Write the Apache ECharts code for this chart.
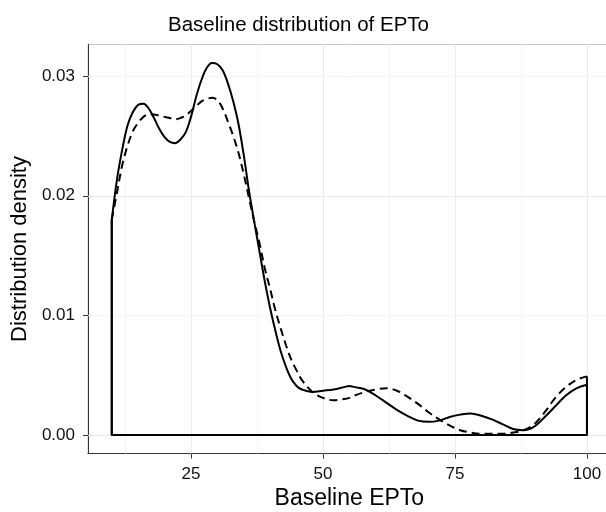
<!DOCTYPE html>
<html>
<head>
<meta charset="utf-8">
<script src="https://cdn.jsdelivr.net/npm/echarts@6/dist/echarts.min.js"></script>
<style>
  html, body { margin: 0; padding: 0; background: #fff; overflow: hidden; }
  #chart { width: 606px; height: 512px; }
</style>
</head>
<body>
<div id="chart"></div>
<script>
// ---- data ----
const xValues = [10, 11, 12, 13, 14, 15, 16, 17, 18, 19, 20, 21, 22, 23, 24, 25, 26, 27, 28, 29, 30,
  31, 32, 33, 34, 35, 36, 37, 38, 39, 40, 41, 42, 43, 44, 45, 46, 48, 50, 52, 54, 55, 56, 58, 60,
  62, 64, 66, 68, 70, 72, 74, 76, 78, 80, 82, 84, 86, 88, 90, 92, 94, 96, 98, 100];

const solidDensity = [0.0180, 0.0214, 0.0239, 0.0259, 0.0270, 0.0276, 0.0277, 0.0273, 0.0265, 0.0256, 0.0249,
  0.0245, 0.0244, 0.0247, 0.0253, 0.0266, 0.0283, 0.0297, 0.0307, 0.0311, 0.0310,
  0.0305, 0.0294, 0.0279, 0.0260, 0.0234, 0.0204, 0.0178, 0.0153, 0.0128, 0.0106, 0.0087, 0.0070, 0.0057, 0.0047, 0.0041, 0.0038,
  0.0036, 0.0037, 0.0038, 0.0040, 0.0041, 0.0040, 0.0038, 0.0033,
  0.0027, 0.0021, 0.0016, 0.0012, 0.0011, 0.0012, 0.0015, 0.0017, 0.0018, 0.0016, 0.0013, 0.0009, 0.0005, 0.0004,
  0.0007, 0.0015, 0.0024, 0.0033, 0.0039, 0.0042];

const dashedDensity = [0.0180, 0.0203, 0.0226, 0.0242, 0.0254, 0.0261, 0.0266, 0.0268, 0.0268, 0.0267, 0.0266,
  0.0265, 0.0264, 0.0265, 0.0267, 0.0271, 0.0275, 0.0279, 0.0281, 0.0282, 0.0280,
  0.0273, 0.0262, 0.0250, 0.0236, 0.0218, 0.0198, 0.0178, 0.0160, 0.0139, 0.0122, 0.0104, 0.0089, 0.0075, 0.0063, 0.0054, 0.0046,
  0.0036, 0.0031, 0.0029, 0.0030, 0.0031, 0.0033, 0.0036, 0.0038,
  0.0039, 0.0037, 0.0032, 0.0026, 0.0019, 0.0013, 0.0008, 0.0004, 0.0002, 0.0001, 0.0001, 0.0001, 0.0002, 0.0004,
  0.0009, 0.0019, 0.0031, 0.0040, 0.0046, 0.0049];

const xTicks = [25, 50, 75, 100];
const yTicks = [0, 0.01, 0.02, 0.03];
const xMinorGrid = [12.5, 37.5, 62.5, 87.5];
const yMinorGrid = [0.005, 0.015, 0.025];

const titleText = 'Baseline distribution of EPTo';
const xTitle = 'Baseline EPTo';
const yTitle = 'Distribution density';

// ---- build series data ----
const pairs = ys => xValues.map((x, i) => [x, ys[i]]);
const edges = ys => {
  const n = xValues.length;
  return [[xValues[0], ys[0]], [xValues[0], 0], [xValues[n - 1], 0], [xValues[n - 1], ys[n - 1]]];
};

const FONT = 'Liberation Sans, Arial, Helvetica, sans-serif';

const gridMarks = [];
const major = { color: '#ebebeb', width: 1, type: 'solid' };
const minor = { color: '#f5f5f5', width: 1, type: 'solid' };
xTicks.forEach(v => gridMarks.push({ xAxis: v, lineStyle: major }));
xMinorGrid.forEach(v => gridMarks.push({ xAxis: v, lineStyle: minor }));
yTicks.forEach(v => gridMarks.push({ yAxis: v, lineStyle: major }));
yMinorGrid.forEach(v => gridMarks.push({ yAxis: v, lineStyle: minor }));

const chart = echarts.init(document.getElementById('chart'), null, { renderer: 'canvas' });
chart.setOption({
  animation: false,
  backgroundColor: '#ffffff',
  title: {
    text: titleText,
    left: 163,
    top: 10,
    textStyle: { fontFamily: FONT, fontSize: 20.5, fontWeight: 'normal', color: '#000' }
  },
  grid: {
    left: 88, top: 44.5, width: 522.72, height: 409,
    containLabel: false, outerBoundsMode: 'none',
    show: true, borderColor: '#c8c8c8', borderWidth: 1, backgroundColor: '#fff'
  },
  xAxis: {
    type: 'value', min: 5.5, max: 104.5,
    name: xTitle, nameLocation: 'middle', nameGap: 33,
    nameTextStyle: { fontFamily: FONT, fontSize: 23, color: '#000' },
    axisLine: { show: true, onZero: false, lineStyle: { color: '#333', width: 1 } },
    axisTick: { show: true, length: 5, customValues: xTicks, lineStyle: { color: '#333' } },
    axisLabel: { customValues: xTicks, fontFamily: FONT, fontSize: 17, color: '#111', margin: 12 },
    splitLine: { show: false }
  },
  yAxis: {
    type: 'value', min: -0.00155, max: 0.03265,
    name: yTitle, nameLocation: 'middle', nameGap: 56, nameRotate: 90,
    nameTextStyle: { fontFamily: FONT, fontSize: 22, color: '#000' },
    axisLine: { show: true, onZero: false, lineStyle: { color: '#333', width: 1 } },
    axisTick: { show: true, length: 5, customValues: yTicks, lineStyle: { color: '#333' } },
    axisLabel: { customValues: yTicks, fontFamily: FONT, fontSize: 17, color: '#111', margin: 13,
      formatter: v => v.toFixed(2) },
    splitLine: { show: false }
  },
  series: [
    {
      type: 'line', data: [], z: 1, silent: true,
      markLine: { silent: true, z: 1, symbol: ['none', 'none'], label: { show: false }, animation: false,
        data: gridMarks }
    },
    {
      name: 'dashed-edges', type: 'line', data: edges(dashedDensity), showSymbol: false, z: 10,
      lineStyle: { color: '#000', width: 2, type: 'solid' }
    },
    {
      name: 'solid-edges', type: 'line', data: edges(solidDensity), showSymbol: false, z: 11,
      lineStyle: { color: '#000', width: 2, type: 'solid' }
    },
    {
      name: 'solid', type: 'line', data: pairs(solidDensity), smooth: 0.35, showSymbol: false, z: 11,
      lineStyle: { color: '#000', width: 2, type: 'solid' }
    },
    {
      name: 'dashed', type: 'line', data: pairs(dashedDensity), smooth: 0.35, showSymbol: false, z: 12,
      lineStyle: { color: '#000', width: 2, type: [8, 5] }
    }
  ]
});
</script>
</body>
</html>
